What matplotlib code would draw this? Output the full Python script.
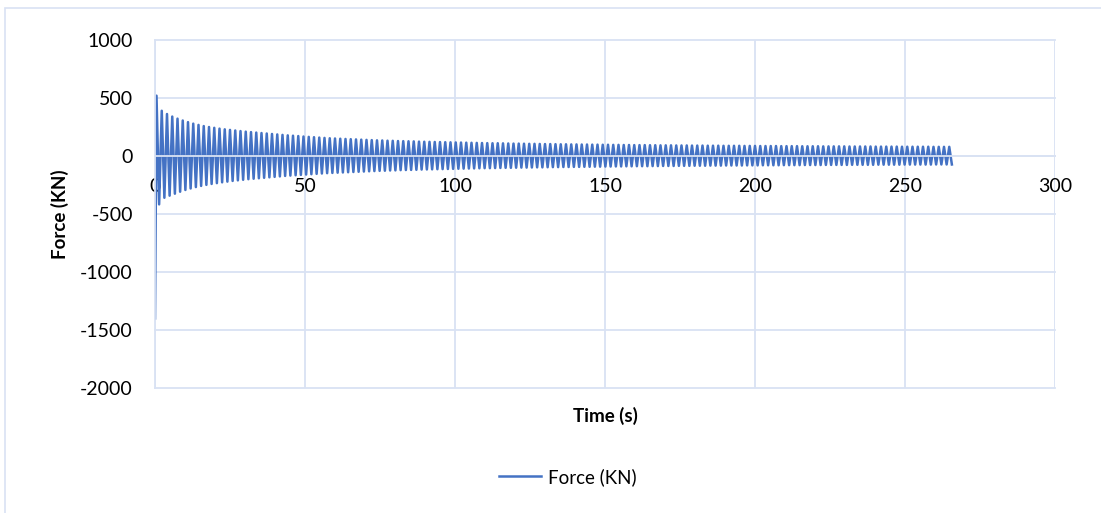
import numpy as np
import matplotlib.pyplot as plt
from matplotlib.patches import Rectangle

# force record (KN): start value, then crest / trough of each cycle
start_force = -1400
dt_half = 0.875   # time between a crest and the next trough (s)
t_first_crest = 0.5

crest = [520, 390, 362, 340, 322, 306, 292, 279, 268, 258,
         250, 243, 236, 230, 225, 220, 215, 210, 206, 202,
         198, 194, 190, 186, 182, 178, 175, 172, 168, 165,
         162, 159, 156, 153, 151, 149, 147, 145, 143, 141,
         139, 137, 135, 134, 132, 131, 129, 128, 127, 126,
         124, 123, 122, 121, 120, 119, 118, 117, 116, 115,
         114, 113, 112, 111, 110, 110, 109, 108, 107, 107,
         106, 105, 105, 104, 103, 103, 102, 101, 101, 100,
         100, 99, 99, 98, 98, 97, 97, 96, 96, 95,
         95, 94, 94, 94, 93, 93, 92, 92, 92, 91,
         91, 91, 90, 90, 90, 89, 89, 89, 88, 88,
         88, 88, 87, 87, 87, 86, 86, 86, 86, 85,
         85, 85, 85, 84, 84, 84, 84, 83, 83, 83,
         83, 83, 82, 82, 82, 82, 82, 81, 81, 81,
         81, 81, 80, 80, 80, 80, 80, 80, 79, 79,
         79, 79]

trough = [-417, -360, -342, -325, -308, -293, -280, -268, -258, -249,
          -241, -234, -227, -221, -215, -210, -205, -200, -196, -192,
          -188, -184, -180, -176, -172, -169, -166, -163, -160, -157,
          -154, -151, -148, -146, -144, -142, -140, -138, -136, -134,
          -132, -130, -128, -127, -125, -124, -122, -121, -120, -119,
          -117, -116, -115, -114, -113, -112, -111, -110, -109, -108,
          -107, -106, -105, -105, -104, -103, -102, -102, -101, -100,
          -100, -99, -98, -98, -97, -96, -96, -95, -95, -94,
          -94, -93, -93, -92, -92, -91, -91, -90, -90, -89,
          -89, -88, -88, -88, -87, -87, -86, -86, -86, -85,
          -85, -85, -84, -84, -84, -83, -83, -83, -82, -82,
          -82, -82, -81, -81, -81, -80, -80, -80, -80, -79,
          -79, -79, -79, -78, -78, -78, -78, -77, -77, -77,
          -77, -77, -76, -76, -76, -76, -76, -75, -75, -75,
          -75, -75, -74, -74, -74, -74, -74, -74, -73, -73,
          -73, -73]

x_ticks = [0, 50, 100, 150, 200, 250, 300]
y_ticks = [-2000, -1500, -1000, -500, 0, 500, 1000]

# put crest/trough pairs in time order
force = [start_force]
for c, tr in zip(crest, trough):
    force += [c, tr]
force = np.array(force)
time = np.concatenate([[0], t_first_crest + dt_half * np.arange(len(force) - 1)])

plt.rcParams['font.family'] = ['Lato', 'DejaVu Sans']
plt.rcParams['axes.unicode_minus'] = False
blue = '#4472C4'
grid = '#D9E2F3'

fig = plt.figure(figsize=(11.01, 5.13), dpi=100)
fig.patches.append(Rectangle((5 / 1101, -0.1), 1.2, 1 - 8 / 513 + 0.1,
                             transform=fig.transFigure, fill=False,
                             edgecolor=grid, lw=1.2))
ax = fig.add_axes([155 / 1101, 1 - 388 / 513, 900 / 1101, 348 / 513])

ax.plot(time, force, color=blue, lw=1.8, label='Force (KN)')

ax.set_xlim(0, 300)
ax.set_ylim(-2000, 1000)
ax.set_xticks(x_ticks)
ax.set_yticks(y_ticks)
ax.grid(True, color=grid, lw=1.3)
for gl in ax.get_xgridlines() + ax.get_ygridlines():
    gl.set_clip_on(False)
ax.set_axisbelow(True)

for s in ['top', 'right']:
    ax.spines[s].set_visible(False)
ax.spines['left'].set_color(grid)
ax.spines['left'].set_linewidth(1.3)
ax.spines['bottom'].set_position(('data', 0))
ax.spines['bottom'].set_color(grid)
ax.spines['bottom'].set_linewidth(1.3)
ax.tick_params(length=0, labelsize=14)
ax.tick_params(axis='x', pad=16)
ax.tick_params(axis='y', pad=16)

ax.set_ylabel('Force (KN)', fontsize=13.5, fontweight='bold', labelpad=8)
ax.text(0.5, -0.055, 'Time (s)', transform=ax.transAxes, ha='center',
        va='top', fontsize=13.5, fontweight='bold')

fig.legend(loc='center', bbox_to_anchor=(568 / 1101, 1 - 477 / 513),
           frameon=False, fontsize=13.5, handlelength=2.2, handletextpad=0.4)

fig.savefig('out.png', dpi=100)
